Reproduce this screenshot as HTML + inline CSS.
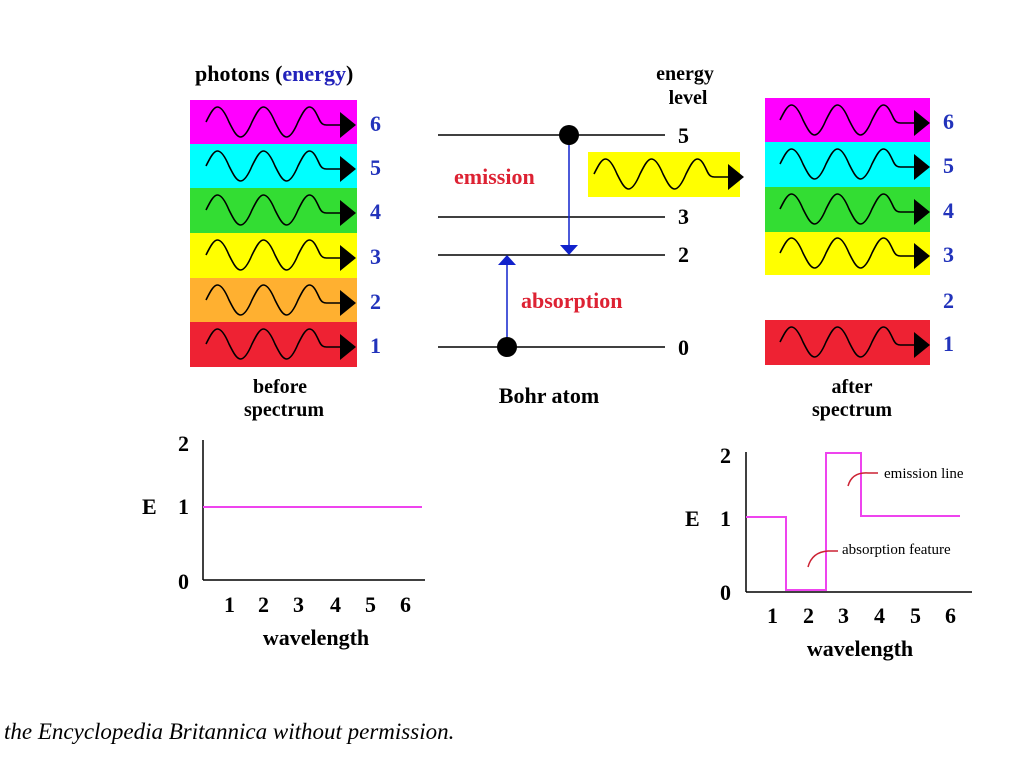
<!DOCTYPE html>
<html><head><meta charset="utf-8"><style>
body{margin:0;background:#fff;}
svg{display:block;font-family:"Liberation Serif",serif;}
</style></head><body>
<svg width="1024" height="768" viewBox="0 0 1024 768" xmlns="http://www.w3.org/2000/svg">
<defs>
<g id="w">
<path d="M0,2 c3.7,-7.3 7.4,-15 11.5,-15 c4.2,0 8,6.7 11.5,15 c3.7,7.3 7.4,15 11.5,15 c4.2,0 8,-6.7 11.5,-15 c3.7,-7.3 7.4,-15 11.5,-15 c4.2,0 8,6.7 11.5,15 c3.7,7.3 7.4,15 11.5,15 c4.2,0 8,-6.7 11.5,-15 c3.7,-7.3 7.4,-15 11.5,-15 c4.2,0 7,6.7 10,13 c2,4 4,5 7,5 L136,5" fill="none" stroke="#000" stroke-width="1.6"/>
<polygon points="134,-8 150,5 134,18" fill="#000"/>
</g>
</defs>
<text x="195" y="81" font-size="22" font-weight="bold">photons (<tspan fill="#2222bb">energy</tspan>)</text>
<g>
<rect x="190" y="100" width="167" height="44" fill="#ff00ff"/>
<rect x="190" y="144" width="167" height="44" fill="#00ffff"/>
<rect x="190" y="188" width="167" height="45" fill="#33dd33"/>
<rect x="190" y="233" width="167" height="45" fill="#ffff00"/>
<rect x="190" y="278" width="167" height="44" fill="#ffb030"/>
<rect x="190" y="322" width="167" height="45" fill="#ee2233"/>
<use href="#w" x="206" y="120"/><use href="#w" x="206" y="164"/><use href="#w" x="206" y="208"/>
<use href="#w" x="206" y="253"/><use href="#w" x="206" y="298"/><use href="#w" x="206" y="342"/>
</g>
<g fill="#2233bb" font-size="22" font-weight="bold">
<text x="370" y="131">6</text><text x="370" y="175">5</text><text x="370" y="219">4</text>
<text x="370" y="264">3</text><text x="370" y="309">2</text><text x="370" y="353">1</text>
</g>
<text x="280" y="393" font-size="20" font-weight="bold" text-anchor="middle">before</text>
<text x="284" y="416" font-size="20" font-weight="bold" text-anchor="middle">spectrum</text>

<text x="685" y="80" font-size="20" font-weight="bold" text-anchor="middle">energy</text>
<text x="688" y="104" font-size="20" font-weight="bold" text-anchor="middle">level</text>
<g stroke="#000" stroke-width="1.5">
<line x1="438" y1="135" x2="665" y2="135"/><line x1="438" y1="217" x2="665" y2="217"/>
<line x1="438" y1="255" x2="665" y2="255"/><line x1="438" y1="347" x2="665" y2="347"/>
</g>
<g font-size="22" font-weight="bold">
<text x="678" y="143">5</text><text x="678" y="224">3</text><text x="678" y="262">2</text><text x="678" y="355">0</text>
</g>
<line x1="569" y1="135" x2="569" y2="246" stroke="#1122cc" stroke-width="1.5"/>
<polygon points="560,245 578,245 569,255" fill="#1122cc"/>
<line x1="507" y1="347" x2="507" y2="264" stroke="#1122cc" stroke-width="1.5"/>
<polygon points="498,265 516,265 507,255" fill="#1122cc"/>
<circle cx="569" cy="135" r="10" fill="#000"/>
<circle cx="507" cy="347" r="10" fill="#000"/>
<text x="454" y="184" font-size="22" font-weight="bold" fill="#dd2233">emission</text>
<text x="521" y="308" font-size="22" font-weight="bold" fill="#dd2233">absorption</text>
<text x="549" y="403" font-size="22" font-weight="bold" text-anchor="middle">Bohr atom</text>
<rect x="588" y="152" width="152" height="45" fill="#ffff00"/>
<use href="#w" x="594" y="172"/>

<rect x="765" y="98" width="165" height="44" fill="#ff00ff"/>
<rect x="765" y="142" width="165" height="45" fill="#00ffff"/>
<rect x="765" y="187" width="165" height="45" fill="#33dd33"/>
<rect x="765" y="232" width="165" height="43" fill="#ffff00"/>
<rect x="765" y="320" width="165" height="45" fill="#ee2233"/>
<use href="#w" x="780" y="118"/><use href="#w" x="780" y="162"/><use href="#w" x="780" y="207"/>
<use href="#w" x="780" y="251"/><use href="#w" x="780" y="340"/>
<g fill="#2233bb" font-size="22" font-weight="bold">
<text x="943" y="129">6</text><text x="943" y="173">5</text><text x="943" y="218">4</text>
<text x="943" y="262">3</text><text x="943" y="308">2</text><text x="943" y="351">1</text>
</g>
<text x="852" y="393" font-size="20" font-weight="bold" text-anchor="middle">after</text>
<text x="852" y="416" font-size="20" font-weight="bold" text-anchor="middle">spectrum</text>

<!-- left chart -->
<g stroke="#000" stroke-width="1.5"><line x1="203" y1="440" x2="203" y2="580"/><line x1="203" y1="580" x2="425" y2="580"/></g>
<line x1="203" y1="507" x2="422" y2="507" stroke="#ee44ee" stroke-width="2"/>
<g font-size="22" font-weight="bold">
<text x="178" y="451">2</text><text x="178" y="514">1</text><text x="178" y="589">0</text>
<text x="142" y="514">E</text>
<text x="224" y="612">1</text><text x="258" y="612">2</text><text x="293" y="612">3</text>
<text x="330" y="612">4</text><text x="365" y="612">5</text><text x="400" y="612">6</text>
</g>
<text x="316" y="645" font-size="22" font-weight="bold" text-anchor="middle">wavelength</text>

<!-- right chart -->
<g stroke="#000" stroke-width="1.5"><line x1="746" y1="452" x2="746" y2="592"/><line x1="746" y1="592" x2="972" y2="592"/></g>
<polyline points="746,517 786,517 786,590 826,590 826,453 861,453 861,516 960,516" fill="none" stroke="#ee44ee" stroke-width="2"/>
<g font-size="22" font-weight="bold">
<text x="720" y="463">2</text><text x="720" y="526">1</text><text x="720" y="600">0</text>
<text x="685" y="526">E</text>
<text x="767" y="623">1</text><text x="803" y="623">2</text><text x="838" y="623">3</text>
<text x="874" y="623">4</text><text x="910" y="623">5</text><text x="945" y="623">6</text>
</g>
<text x="860" y="656" font-size="22" font-weight="bold" text-anchor="middle">wavelength</text>
<path d="M848,486 Q852,472 868,473 L878,473" fill="none" stroke="#cc2233" stroke-width="1.5"/>
<text x="884" y="478" font-size="15">emission line</text>
<path d="M808,567 Q812,552 828,551 L838,551" fill="none" stroke="#cc2233" stroke-width="1.5"/>
<text x="842" y="554" font-size="15">absorption feature</text>

<text x="4" y="739" font-size="23" font-style="italic">the Encyclopedia Britannica without permission.</text>
</svg>
</body></html>
